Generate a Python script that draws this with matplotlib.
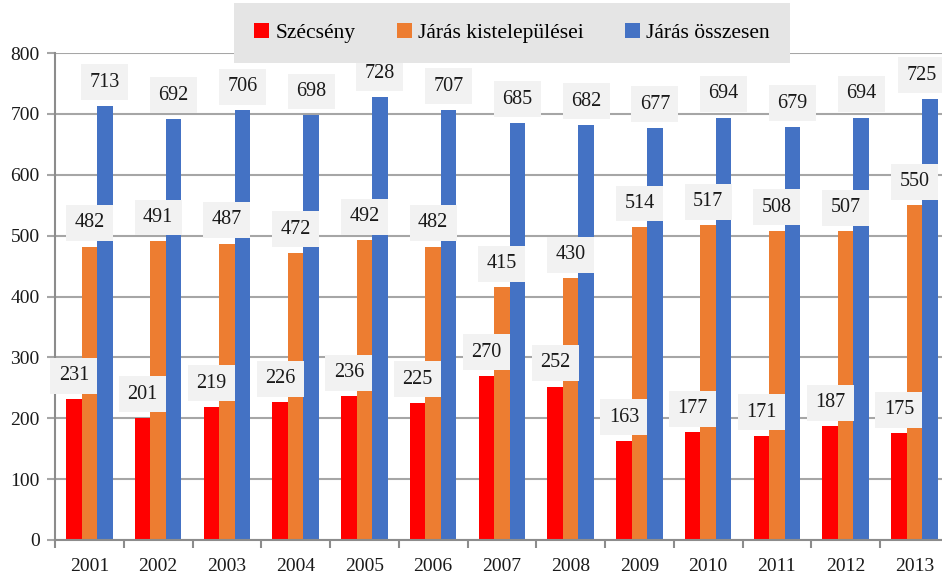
import matplotlib
matplotlib.use("Agg")
import matplotlib.pyplot as plt
import numpy as np

years = ["2001", "2002", "2003", "2004", "2005", "2006", "2007",
         "2008", "2009", "2010", "2011", "2012", "2013"]
szecseny = [231, 201, 219, 226, 236, 225, 270, 252, 163, 177, 171, 187, 175]
kistelepulesei = [482, 491, 487, 472, 492, 482, 415, 430, 514, 517, 508, 507, 550]
osszesen = [713, 692, 706, 698, 728, 707, 685, 682, 677, 694, 679, 694, 725]

series_names = ["Szécsény", "Járás kistelepülései", "Járás összesen"]
colors = ["#ff0000", "#ed7d31", "#4472c4"]

plt.rcParams["font.family"] = ["Liberation Serif", "DejaVu Serif"]

fig = plt.figure(figsize=(9.42, 5.74), dpi=100)
ax = fig.add_axes([55 / 942, 34 / 574, 893.75 / 942, 487 / 574])

x = np.arange(len(years))
w = 0.225
grid_c = "#a6a6a6"
n = len(years)
for i, (vals, name, c) in enumerate(zip([szecseny, kistelepulesei, osszesen], series_names, colors)):
    xs = x + (i - 1) * w
    ax.bar(xs, vals, width=w, color=c, label=name, zorder=2)
    for j, (xi, v) in enumerate(zip(xs, vals)):
        dx = -6 if (i == 2 and j == n - 1) else 0
        ax.annotate(str(v), (xi, v), xytext=(dx, 17), textcoords="offset points",
                    ha="center", va="center", fontsize=14.5, color="#1a1a1a", zorder=4,
                    bbox=dict(boxstyle="square,pad=0.42", facecolor="#f2f2f2", edgecolor="none"))

ax.set_xlim(-0.5, len(years) - 0.5)
ax.set_ylim(0, 800)
ax.set_yticks(range(0, 801, 100))
ax.yaxis.grid(True, color=grid_c, linewidth=1.5, zorder=0)
ax.set_axisbelow(True)

ax.set_xticks(x)
ax.set_xticklabels(years, fontsize=14, color="#1a1a1a")
ax.set_xticks(np.arange(-0.5, len(years), 1), minor=True)
ax.tick_params(axis="x", which="major", length=0, pad=13)
ax.tick_params(axis="x", which="minor", length=6, width=1.5, color="#8c8c8c")
ax.tick_params(axis="y", length=6, width=1.5, color=grid_c, labelsize=14, labelcolor="#1a1a1a", pad=5)

for s in ["top", "right"]:
    ax.spines[s].set_visible(False)
ax.spines["left"].set_color("#8c8c8c")
ax.spines["left"].set_linewidth(1.5)
ax.spines["bottom"].set_color("#8c8c8c")
ax.spines["bottom"].set_linewidth(1.5)

leg = fig.legend(loc="center", bbox_to_anchor=(512 / 942, 1 - 33 / 574), ncol=3,
                 fontsize=15.5, frameon=True, facecolor="#e5e5e5", edgecolor="none",
                 fancybox=False, framealpha=1, handlelength=0.7, handleheight=0.7,
                 handletextpad=0.3, columnspacing=1.9, borderpad=0.95)
leg.set_zorder(10)

fig.savefig("out.png", dpi=100)
